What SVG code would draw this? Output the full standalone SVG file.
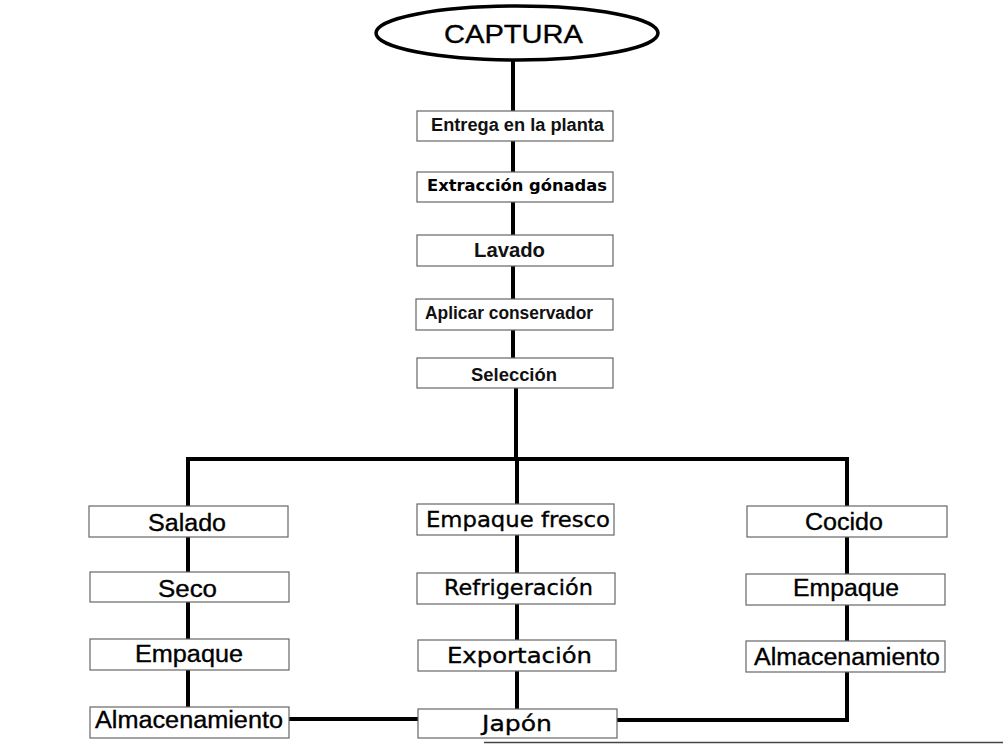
<svg xmlns="http://www.w3.org/2000/svg" width="1003" height="744" viewBox="0 0 1003 744">
<style>
.box{fill:#fff;stroke:#666;stroke-width:1.2}
.con{fill:none;stroke:#000;stroke-width:4;stroke-linecap:butt;stroke-linejoin:miter}
.h{font-family:"Liberation Sans",Arial,sans-serif;fill:#000;stroke:#000;stroke-width:0.35}
.hb{font-family:"Liberation Sans",Arial,sans-serif;font-weight:bold;fill:#111}
.l{font-family:"DejaVu Sans","Open Sans",sans-serif;fill:#000;stroke:#000;stroke-width:0.35}
</style>
<rect width="1003" height="744" fill="#fff"/>
<g id="connectors">
<line class="con" x1="513" y1="60" x2="513" y2="111"/>
<line class="con" x1="513" y1="141" x2="513" y2="172"/>
<line class="con" x1="513" y1="202" x2="513" y2="235"/>
<line class="con" x1="513" y1="266" x2="513" y2="299"/>
<line class="con" x1="513" y1="330" x2="513" y2="358"/>
<polyline class="con" points="516,388 516,459"/>
<polyline class="con" points="188,506 188,459 847,459 847,720 617,720"/>
<line class="con" x1="188" y1="537" x2="188" y2="572"/>
<line class="con" x1="188" y1="602" x2="188" y2="639"/>
<line class="con" x1="188" y1="670" x2="188" y2="707"/>
<line class="con" x1="289" y1="719" x2="418" y2="719"/>
<line class="con" x1="517" y1="459" x2="517" y2="504"/>
<line class="con" x1="517" y1="535" x2="517" y2="573"/>
<line class="con" x1="517" y1="604" x2="517" y2="640"/>
<line class="con" x1="517" y1="671" x2="517" y2="709"/>
<line class="con" x1="847" y1="537" x2="847" y2="574"/>
<line class="con" x1="847" y1="605" x2="847" y2="641"/>
</g>
<g id="captura">
<ellipse cx="517" cy="33" rx="141" ry="27" fill="#fff" stroke="#000" stroke-width="3.5"/>
<text class="h" x="513.5" y="43" font-size="26.5" text-anchor="middle" textLength="139" lengthAdjust="spacingAndGlyphs">CAPTURA</text>
</g>
<g id="entrega">
<rect class="box" x="417" y="111" width="196" height="30"/>
<text class="hb" x="517.5" y="130.5" font-size="17.5" text-anchor="middle" textLength="173" lengthAdjust="spacingAndGlyphs">Entrega en la planta</text>
</g>
<g id="extraccion">
<rect class="box" x="417" y="172" width="196" height="30"/>
<text class="l" x="517" y="191" font-size="16.5" font-weight="bold" text-anchor="middle" textLength="180" lengthAdjust="spacingAndGlyphs" style="stroke-width:0">Extracción gónadas</text>
</g>
<g id="lavado">
<rect class="box" x="417" y="235" width="196" height="31"/>
<text class="hb" x="509.5" y="257" font-size="19.5" text-anchor="middle" textLength="71" lengthAdjust="spacingAndGlyphs">Lavado</text>
</g>
<g id="aplicar">
<rect class="box" x="416" y="299" width="197" height="31"/>
<text class="hb" x="509" y="318.5" font-size="17.5" text-anchor="middle" textLength="168" lengthAdjust="spacingAndGlyphs">Aplicar conservador</text>
</g>
<g id="seleccion">
<rect class="box" x="417" y="358" width="196" height="30"/>
<text class="hb" x="514" y="381" font-size="19" text-anchor="middle" textLength="86" lengthAdjust="spacingAndGlyphs">Selección</text>
</g>
<g id="salado">
<rect class="box" x="89" y="506" width="199" height="31"/>
<text class="h" x="187" y="531" font-size="23.5" text-anchor="middle" textLength="78" lengthAdjust="spacingAndGlyphs">Salado</text>
</g>
<g id="seco">
<rect class="box" x="90" y="572" width="199" height="30"/>
<text class="h" x="187.5" y="597" font-size="23.5" text-anchor="middle" textLength="59" lengthAdjust="spacingAndGlyphs">Seco</text>
</g>
<g id="empaque-izq">
<rect class="box" x="90" y="639" width="199" height="31"/>
<text class="h" x="189" y="662" font-size="23.5" text-anchor="middle" textLength="108" lengthAdjust="spacingAndGlyphs">Empaque</text>
</g>
<g id="almacenamiento-izq">
<rect class="box" x="90" y="707" width="199" height="31"/>
<text class="h" x="189" y="728" font-size="23.5" text-anchor="middle" textLength="188" lengthAdjust="spacingAndGlyphs">Almacenamiento</text>
</g>
<g id="empaque-fresco">
<rect class="box" x="417" y="504" width="197" height="31"/>
<text class="l" x="518" y="527" font-size="21" text-anchor="middle" textLength="184" lengthAdjust="spacingAndGlyphs">Empaque fresco</text>
</g>
<g id="refrigeracion">
<rect class="box" x="417" y="573" width="198" height="31"/>
<text class="l" x="518.5" y="595" font-size="21" text-anchor="middle" textLength="149" lengthAdjust="spacingAndGlyphs">Refrigeración</text>
</g>
<g id="exportacion">
<rect class="box" x="418" y="640" width="198" height="31"/>
<text class="l" x="519.5" y="663" font-size="21" text-anchor="middle" textLength="145" lengthAdjust="spacingAndGlyphs">Exportación</text>
</g>
<g id="japon">
<rect class="box" x="418" y="709" width="199" height="29"/>
<text class="l" x="517" y="731" font-size="22" text-anchor="middle" textLength="70" lengthAdjust="spacingAndGlyphs">Japón</text>
</g>
<g id="cocido">
<rect class="box" x="747" y="506" width="200" height="31"/>
<text class="h" x="844" y="530" font-size="23.5" text-anchor="middle" textLength="78" lengthAdjust="spacingAndGlyphs">Cocido</text>
</g>
<g id="empaque-der">
<rect class="box" x="746" y="574" width="199" height="31"/>
<text class="h" x="846" y="596" font-size="23.5" text-anchor="middle" textLength="106" lengthAdjust="spacingAndGlyphs">Empaque</text>
</g>
<g id="almacenamiento-der">
<rect class="box" x="746" y="641" width="199" height="31"/>
<text class="h" x="847" y="665" font-size="23.5" text-anchor="middle" textLength="186" lengthAdjust="spacingAndGlyphs">Almacenamiento</text>
</g>
<line x1="484" y1="742.5" x2="1003" y2="742.5" stroke="#444" stroke-width="1.5"/>
</svg>
